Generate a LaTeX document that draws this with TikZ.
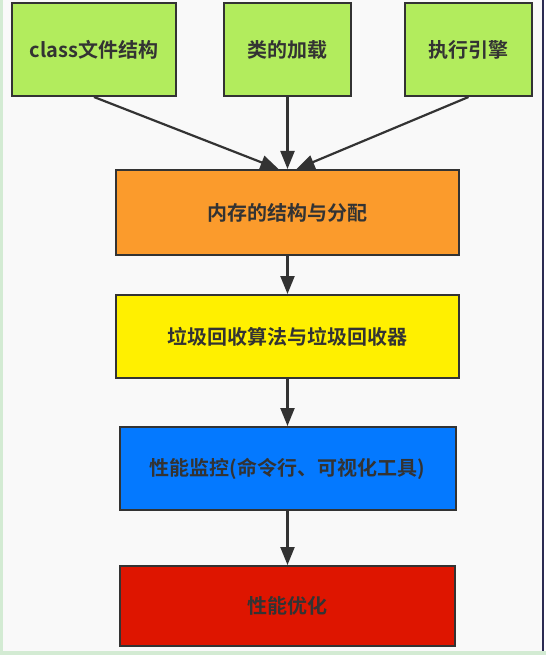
\documentclass[tikz,border=0pt]{standalone}
\usepackage{fontspec}
\setmainfont{Noto Sans CJK SC}[BoldFont={Noto Sans CJK SC Bold}]
\usetikzlibrary{arrows.meta,calc}
\definecolor{bgc}{HTML}{F9F9F9}
\definecolor{edgegreen}{HTML}{D3EBD3}
\definecolor{linec}{HTML}{333333}
\definecolor{gbox}{HTML}{B2EC5D}
\definecolor{obox}{HTML}{FB9B2C}
\definecolor{ybox}{HTML}{FFF000}
\definecolor{bbox}{HTML}{0479FF}
\definecolor{rbox}{HTML}{DE1500}
\tikzset{
  blk/.style={draw=linec, line width=2pt, inner sep=0pt, font=\fontsize{20}{24}\selectfont\bfseries, text=linec},
  conn/.style={draw=linec, line width=2.2pt, -{Triangle[length=18pt,width=14pt]}}
}
\begin{document}
\begin{tikzpicture}[x=1pt,y=-1pt]
\useasboundingbox (0,0) rectangle (546,655);
\fill[bgc] (0,0) rectangle (546,655);
\fill[edgegreen] (0,0) rectangle (3,655);
\fill[edgegreen] (0,651) rectangle (546,655);
\fill[white] (544,0) rectangle (546,651);
\fill[linec!85!blue] (541.5,0) rectangle (543.5,651);
\node[blk, fill=gbox, minimum width=164pt, minimum height=93pt] (b1) at (94,49.5) {class文件结构};
\node[blk, fill=gbox, minimum width=127pt, minimum height=93pt] (b2) at (287.5,49.5) {类的加载};
\node[blk, fill=gbox, minimum width=127pt, minimum height=93pt] (b3) at (468.5,49.5) {执行引擎};
\node[blk, fill=obox, minimum width=343pt, minimum height=85pt] (mem) at (287.5,212.5) {内存的结构与分配};
\node[blk, fill=ybox, minimum width=343pt, minimum height=83pt] (gc) at (287.5,336.5) {垃圾回收算法与垃圾回收器};
\node[blk, fill=bbox, minimum width=336pt, minimum height=83pt] (mon) at (287.5,468.5) {性能监控(命令行、可视化工具)};
\node[blk, fill=rbox, minimum width=335pt, minimum height=80pt] (opt) at (287.5,606) {性能优化};
\coordinate (mL) at ($(mem.north)+(-9,0)$);
\coordinate (mR) at ($(mem.north)+(9,0)$);
\draw[conn] (b1.south) -- (mL);
\draw[conn] (b2.south) -- (mem.north);
\draw[conn] (b3.south) -- (mR);
\draw[conn] (mem.south) -- (gc.north);
\draw[conn] (gc.south) -- (mon.north);
\draw[conn] (mon.south) -- (opt.north);
\end{tikzpicture}
\end{document}
